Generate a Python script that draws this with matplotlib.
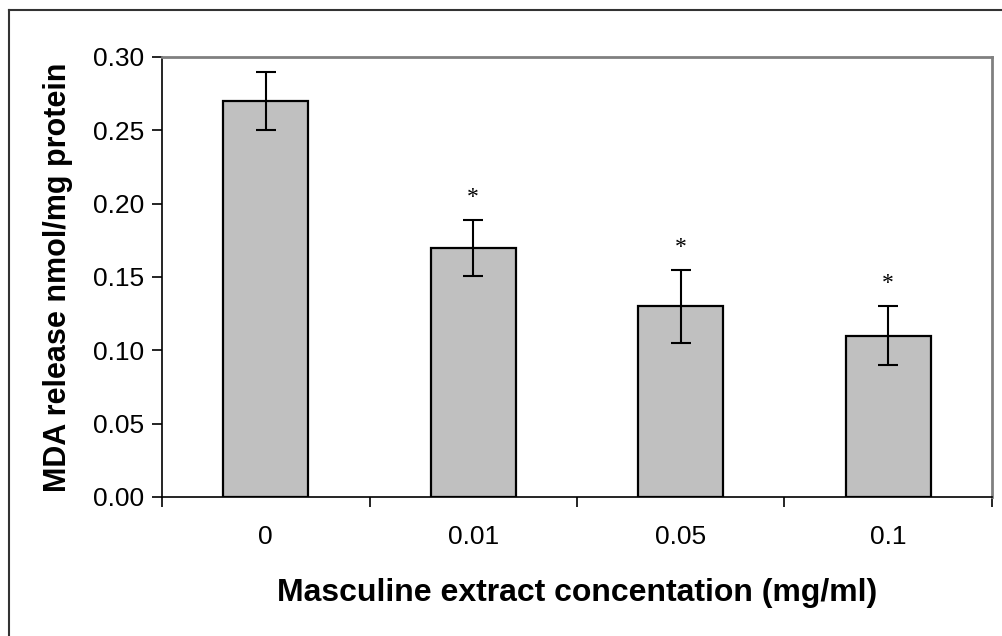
import matplotlib
matplotlib.use("Agg")
import matplotlib.pyplot as plt
from matplotlib.lines import Line2D
import numpy as np

# values
concentrations = ["0", "0.01", "0.05", "0.1"]
mda = [0.270, 0.170, 0.130, 0.110]
sd = [0.020, 0.019, 0.025, 0.020]
significant = [False, True, True, True]
y_ticks = [0.00, 0.05, 0.10, 0.15, 0.20, 0.25, 0.30]

plt.rcParams['font.family'] = ['Liberation Sans', 'DejaVu Sans']

fig = plt.figure(figsize=(10.02, 6.36), dpi=100)
ax = fig.add_axes([0.1617, 0.2186, 0.8283, 0.6918])

x = np.arange(len(concentrations))
ax.bar(x, mda, width=0.41, color='#c0c0c0', edgecolor='black', linewidth=1.6, zorder=2)
ax.errorbar(x, mda, yerr=sd, fmt='none', ecolor='black', elinewidth=1.5,
            capsize=7, capthick=1.5, zorder=3)

# asterisks above significant bars
for xi, m, s, sig in zip(x, mda, sd, significant):
    if sig:
        ax.text(xi, m + s + 0.0115, '*', ha='center', va='baseline',
                fontsize=17, family='Liberation Serif')

ax.set_xlim(-0.5, len(concentrations) - 0.5)
ax.set_ylim(0, 0.30)
ax.set_yticks(y_ticks)
ax.set_yticklabels(['%.2f' % v for v in y_ticks])
ax.set_xticks(x)
ax.set_xticklabels(concentrations)
ax.set_xticks(np.arange(-0.5, len(concentrations)), minor=True)
ax.tick_params(axis='x', which='major', length=0, pad=20, labelsize=19)
ax.tick_params(axis='x', which='minor', length=7, width=1.2, direction='out')
ax.tick_params(axis='y', length=7, width=1.2, direction='out', pad=6, labelsize=19)

for side in ['left', 'bottom']:
    ax.spines[side].set_color('black')
    ax.spines[side].set_linewidth(1.2)
for side in ['top', 'right']:
    ax.spines[side].set_color('#808080')
    ax.spines[side].set_linewidth(2)

ax.set_xlabel('Masculine extract concentation (mg/ml)', fontsize=23,
              fontweight='bold', labelpad=21)
ax.set_ylabel('MDA release nmol/mg protein', fontsize=22, fontweight='bold',
              labelpad=14)

# outer frame (left and top edges visible)
fig.add_artist(Line2D([9 / 1002, 9 / 1002], [0, 1 - 10 / 636], transform=fig.transFigure,
                      color='#333333', linewidth=1.5))
fig.add_artist(Line2D([9 / 1002, 1], [1 - 10 / 636, 1 - 10 / 636], transform=fig.transFigure,
                      color='#333333', linewidth=1.5))

fig.savefig('out.png', dpi=100)
